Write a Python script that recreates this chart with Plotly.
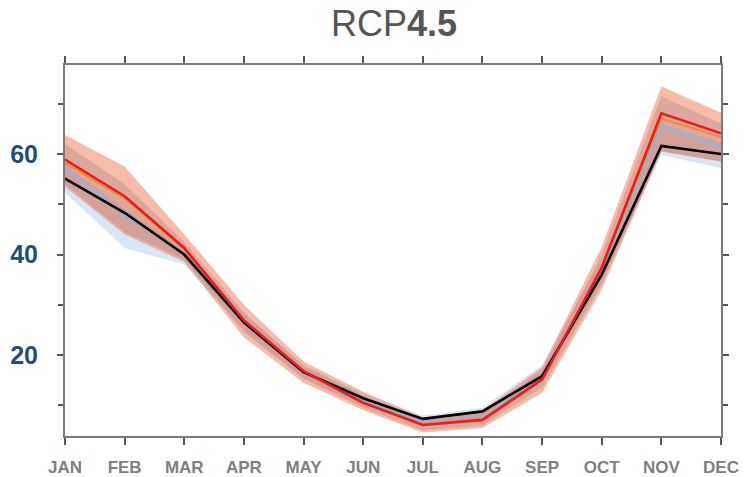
import plotly.graph_objects as go

months = ["JAN", "FEB", "MAR", "APR", "MAY", "JUN", "JUL", "AUG", "SEP", "OCT", "NOV", "DEC"]
x = list(range(12))

observed = [55.1, 48.3, 40.0, 26.5, 16.6, 11.4, 7.3, 8.8, 15.8, 36.0, 61.6, 60.0]
model_blue = [57.4, 47.8, 40.3, 26.5, 16.6, 11.0, 6.7, 7.6, 15.9, 37.0, 65.6, 61.4]
model_orange = [58.2, 51.2, 41.0, 26.8, 16.7, 10.6, 6.3, 7.3, 15.3, 37.2, 67.0, 63.4]
model_red = [58.9, 51.6, 41.3, 26.9, 16.8, 10.5, 6.1, 7.1, 15.1, 37.4, 68.1, 64.1]

blue_low = [52.3, 41.3, 38.0, 25.0, 15.5, 10.0, 6.0, 7.0, 14.5, 34.5, 59.8, 57.2]
blue_high = [57.8, 49.0, 41.2, 28.0, 18.0, 12.5, 8.0, 9.5, 18.0, 39.0, 66.0, 62.2]
salmon_low = [53.5, 44.0, 38.5, 23.5, 14.5, 9.0, 4.6, 5.5, 12.5, 33.0, 60.5, 58.5]
salmon_high = [63.8, 57.5, 44.0, 30.0, 18.7, 12.7, 7.6, 9.0, 17.6, 41.5, 73.4, 68.2]
inner_low = [54.0, 44.5, 39.0, 24.5, 15.3, 9.5, 5.0, 6.0, 13.5, 34.0, 60.5, 58.5]
inner_high = [62.0, 54.0, 42.5, 28.5, 17.8, 12.0, 7.1, 8.5, 17.0, 40.0, 71.5, 66.0]

fig = go.Figure()


def band(low, high, color):
    fig.add_trace(go.Scatter(x=x, y=low, mode="lines", line=dict(width=0),
                             showlegend=False, hoverinfo="skip"))
    fig.add_trace(go.Scatter(x=x, y=high, mode="lines", line=dict(width=0),
                             fill="tonexty", fillcolor=color,
                             showlegend=False, hoverinfo="skip"))


band(blue_low, blue_high, "rgba(175,208,240,0.5)")
band(salmon_low, salmon_high, "rgba(240,140,105,0.58)")
band(inner_low, inner_high, "rgba(150,110,120,0.26)")

fig.add_trace(go.Scatter(x=x, y=model_blue, mode="lines",
                         line=dict(color="#8fb6e2", width=2.2), showlegend=False))
fig.add_trace(go.Scatter(x=x, y=model_orange, mode="lines",
                         line=dict(color="#f08a3c", width=2.2), showlegend=False))
fig.add_trace(go.Scatter(x=x, y=observed, mode="lines",
                         line=dict(color="#000000", width=2.6), showlegend=False))
fig.add_trace(go.Scatter(x=x, y=model_red, mode="lines",
                         line=dict(color="#ec1c1c", width=2.6), showlegend=False))

fig.update_layout(
    width=744, height=477,
    margin=dict(l=65, r=23, t=65, b=41, autoexpand=False),
    plot_bgcolor="white", paper_bgcolor="white",
    title=dict(text="RCP<b>4.5</b>", x=394 / 744, xanchor="center",
               y=1 - 23 / 477, yanchor="middle",
               font=dict(family="Liberation Sans, Arial", size=36, color="#555555")),
    xaxis=dict(range=[0, 11], tickmode="array", tickvals=x, ticktext=months,
               automargin=False,
               showgrid=False, zeroline=False, showline=True, linecolor="#7a7a7a",
               linewidth=2, mirror="ticks", ticks="outside", ticklen=7, tickwidth=1.5,
               tickcolor="#555555", ticklabelstandoff=8,
               tickfont=dict(family="Liberation Sans, Arial", size=17, color="#808080",
                             weight="bold")),
    yaxis=dict(range=[3.9, 77.7], tickmode="linear", tick0=0, dtick=20,
               automargin=False,
               showgrid=False, zeroline=False, showline=True, linecolor="#7a7a7a",
               linewidth=2, mirror="ticks", ticks="outside", ticklen=6, tickwidth=1.5,
               tickcolor="#555555", ticklabelstandoff=14,
               minor=dict(dtick=10, tick0=0, ticks="outside", ticklen=5,
                          tickwidth=1.5, tickcolor="#555555", showgrid=False),
               tickfont=dict(family="Liberation Sans, Arial", size=25, color="#1f4e7a",
                             weight="bold")),
)

fig.write_html("out.html")
